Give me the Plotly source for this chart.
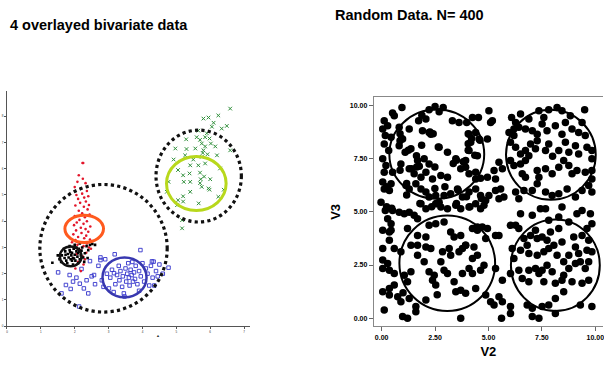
import plotly.graph_objects as go

# ---------------- Left panel: 4 overlayed bivariate data ----------------
red_x = [2.23,2.25,2.12,2.24,2.08,2.32,2.0,2.18,2.36,2.22,2.05,2.4,2.28,2.1,2.33,2.16,2.42,2.02,2.27,2.38,
         2.12,2.22,2.44,2.0,2.3,2.14,2.36,2.06,2.26,1.98,2.46,2.18,2.32,2.04,2.4,2.2,1.96,2.34,2.1,2.28,
         2.45,2.02,2.2,2.36,2.08,2.26,2.42,1.98,2.16,2.34,2.06,2.24,1.95,2.3,2.1,2.26,2.02,2.18,2.48,1.92]
red_y = [6.22,6.22,5.75,5.62,5.5,5.45,5.3,5.25,5.15,5.05,5.0,4.95,4.9,4.85,4.75,4.7,4.62,4.6,4.55,4.45,
         4.4,4.3,4.25,4.2,4.15,4.05,4.0,3.95,3.9,3.85,3.8,3.75,3.7,3.65,3.6,3.55,3.5,3.45,3.4,3.35,
         3.3,3.28,3.2,3.15,3.1,3.05,3.0,2.95,2.9,2.8,2.75,2.65,2.6,2.55,2.45,2.35,2.2,2.1,2.95,3.2]

black_x = [1.34,1.55,1.62,1.7,1.72,1.75,1.8,1.82,1.85,1.88,1.9,1.92,1.95,1.97,2.0,2.02,2.05,2.08,2.1,2.12,
           2.15,2.18,2.2,2.22,2.25,2.3,2.35,2.4,2.45,2.52,2.6,1.78,1.95,2.1,1.68,1.85,2.0,2.15,1.5,1.6,
           2.28,2.38,1.92,2.05,1.87,2.13,1.98,1.73]
black_y = [2.42,2.55,2.7,2.6,2.85,2.5,2.75,2.62,2.9,2.55,2.7,2.8,2.6,2.95,2.72,2.5,2.85,2.65,2.78,2.95,
           2.55,2.7,2.88,3.0,2.62,2.78,3.05,2.9,3.1,3.13,3.1,2.4,2.35,2.4,2.95,3.05,3.1,3.15,2.7,2.45,
           2.45,2.6,2.5,3.0,2.82,2.85,2.58,2.72]

blue_x = [1.51,1.74,1.88,2.13,1.61,1.95,2.05,2.15,2.27,2.35,2.45,2.5,2.57,2.6,2.7,2.76,2.76,2.8,2.85,2.95,
          3.01,3.05,3.1,3.16,3.18,3.2,3.25,3.3,3.32,3.35,3.4,3.42,3.45,3.47,3.5,3.52,3.55,3.58,3.6,3.62,
          3.65,3.68,3.7,3.72,3.75,3.78,3.8,3.85,3.9,3.94,3.95,4.0,4.05,4.1,4.15,4.2,4.25,4.28,4.33,4.3,
          4.4,4.45,4.5,4.6,4.77,2.2,2.9,3.15,4.35,1.85,2.4,3.9]
blue_y = [2.05,1.57,1.42,0.75,1.25,1.7,1.85,1.62,1.44,1.75,2.48,1.9,1.95,1.6,2.3,2.52,2.62,1.75,1.5,2.0,
          1.44,1.85,2.15,2.02,2.74,1.6,1.95,2.3,1.75,2.1,1.5,1.9,1.25,1.13,2.2,1.7,2.0,2.4,1.85,1.55,
          2.15,1.95,2.45,1.7,2.05,1.8,2.3,1.6,2.1,2.9,1.9,2.4,1.7,2.2,2.0,1.55,2.3,2.47,2.46,1.85,
          2.1,1.9,2.35,2.0,2.23,2.18,2.55,1.3,1.55,1.95,1.25,1.35]

green_x = [6.59,6.24,5.95,5.8,6.49,6.34,6.05,5.29,5.6,5.7,5.75,5.85,5.8,5.98,6.02,6.15,5.92,5.56,5.3,4.97,
           5.26,4.92,5.5,5.75,6.2,6.59,6.29,5.41,5.65,5.85,5.7,5.39,5.2,5.05,4.77,5.41,5.7,5.75,5.22,5.95,
           5.41,5.2,6.24,5.98,6.0,4.72,5.66,5.05,5.2,5.02,6.4,5.17,5.17,5.9,5.85,5.78,5.82,5.72,6.1,5.65]
green_y = [8.29,8.03,7.95,7.91,7.63,7.53,7.6,7.12,7.2,7.1,6.96,6.85,6.7,7.15,6.96,6.85,6.55,6.77,6.75,6.77,
           6.51,6.35,6.35,6.45,6.51,6.7,6.01,6.13,6.13,6.2,5.85,5.82,5.75,5.95,5.5,5.5,5.45,5.31,5.5,5.25,
           5.12,4.95,4.93,5.2,5.6,5.12,4.68,4.8,4.75,4.61,5.2,4.04,3.73,7.35,7.2,6.6,5.7,5.6,7.75,7.45]

# ellipses on the left panel: centre x, centre y, radius x, radius y
left_ell_cx = [2.85, 5.66, 5.59, 2.28, 1.88, 3.47]
left_ell_cy = [2.97, 5.72, 5.44, 3.71, 2.66, 1.86]
left_ell_rx = [1.88, 1.26, 0.88, 0.57, 0.32, 0.65]
left_ell_ry = [2.43, 1.75, 1.03, 0.52, 0.38, 0.76]
left_ell_col = ["#111111", "#111111", "#b8d81c", "#ff5a1e", "#111111", "#3838b0"]
left_ell_dash = ["dot", "dot", "solid", "solid", "solid", "solid"]
left_ell_w = [3.2, 3.2, 3, 3, 2.5, 2.5]

left_xticks = [0, 1, 2, 3, 4, 5, 6, 7]
left_yticks = [0, 1, 2, 3, 4, 5, 6, 7, 8]

# ---------------- Right panel: Random Data, N = 400 ----------------
v2 = [0.95,0.51,0.12,0.59,1.88,2.22,2.5,2.88,2.69,1.73,2.07,3.31,3.62,3.98,4.25,4.53,5.02,5.18,5.1,6.08,
      6.5,7.36,7.82,8.21,8.44,8.83,9.5,7.59,6.89,6.27,
      0.05,0.28,0.17,0.44,0.82,0.98,1.29,1.91,2.22,2.3,4.09,4.4,4.56,4.95,5.96,6.19,6.42,6.19,6.73,7.05,
      7.28,7.74,8.13,8.6,8.91,9.22,9.53,9.38,7.51,8.44,0.86,0.93,2.26,2.41,4.05,4.21,4.6,
      0.12,0.33,0.86,0.82,1.1,1.37,1.63,1.68,1.99,2.69,3.08,3.47,3.93,4.17,4.09,4.48,0.05,6.03,6.27,6.5,
      6.73,6.97,6.89,7.28,7.67,7.82,8.29,8.6,8.76,9.07,9.22,9.61,9.84,9.84,1.87,2.65,1.25,4.05,4.05,4.36,
      7.2,8.0,
      0.2,0.12,0.51,0.9,1.29,1.52,1.76,2.07,2.22,1.84,2.38,2.77,3.08,3.7,3.93,4.09,4.4,4.4,4.63,4.95,
      5.26,5.33,5.65,5.49,6.03,6.19,6.5,6.73,6.58,6.73,7.28,7.36,7.67,7.98,8.29,8.52,8.76,8.91,9.14,9.53,
      9.84,9.84,1.64,1.4,0.86,2.49,3.35,3.5,3.82,
      0.05,0.44,0.12,0.36,1.14,1.29,1.6,1.84,2.07,2.22,2.53,2.69,2.92,3.23,3.55,3.78,4.09,4.4,4.63,4.87,
      5.02,5.33,5.57,5.72,5.49,6.27,6.66,6.42,7.05,7.28,7.67,7.98,8.29,8.68,9.07,9.38,9.69,9.84,0.23,1.17,
      2.49,2.96,3.58,3.97,4.67,1.17,
      -0.03,0.17,0.51,0.82,1.06,1.29,1.52,1.68,1.84,2.07,2.53,2.77,3.08,3.47,3.7,4.09,4.4,4.63,4.79,0.28,
      0.44,4.48,4.71,4.95,6.03,6.27,6.5,7.05,7.43,7.67,7.82,8.29,8.44,9.14,9.38,9.77,9.84,8.76,0.23,0.47,
      1.79,2.34,2.57,3.5,4.13,
      0.05,0.36,0.36,0.44,1.21,1.68,2.07,2.22,2.53,2.92,3.23,3.39,3.7,3.93,4.25,4.48,5.33,5.49,4.87,6.42,
      6.66,6.97,7.2,7.28,7.51,7.74,7.9,8.29,8.44,8.99,9.38,9.61,9.69,
      0.05,0.59,0.9,1.37,1.68,2.07,2.3,2.85,3.16,3.62,3.78,3.93,4.32,4.48,4.25,2.77,3.23,1.99,1.68,0.28,
      0.05,6.11,6.19,6.5,6.81,6.89,7.28,7.59,7.82,8.06,8.21,8.52,8.76,9.07,9.22,9.61,9.69,9.84,
      0.05,0.36,0.59,1.06,1.37,2.22,2.46,2.38,2.53,2.92,3.08,3.39,3.78,4.09,4.25,4.63,4.79,5.33,5.65,6.03,
      6.42,6.89,7.2,7.36,7.51,7.74,7.98,8.52,8.76,9.07,9.3,9.53,9.69,8.44,8.13,7.59,6.89,6.58,1.21,0.59,
      0.05,0.36,0.36,0.75,0.9,1.29,1.6,2.07,3.47,3.7,3.93,4.4,4.87,5.1,5.26,5.49,5.65,6.03,6.81,7.05,
      7.51,7.82,8.13,8.52,8.91,9.38,9.84,9.3,0.12,1.0,2.6,
      0.98,1.21,3.7,5.61,6.03,7.05,7.36,8.13,1.6]
v3 = [9.89,9.63,9.27,9.5,9.53,9.78,9.94,9.89,9.69,9.27,9.35,9.27,9.19,9.19,9.42,9.42,9.74,9.27,9.19,9.42,
      9.58,9.74,9.78,9.89,9.74,9.5,9.78,9.42,9.35,9.19,
      8.88,9.03,8.57,8.49,8.96,8.41,8.88,8.8,8.72,8.64,8.64,8.72,8.41,8.41,8.72,8.88,8.96,8.57,8.88,8.8,
      8.64,8.8,9.03,9.19,8.88,8.72,8.57,9.19,9.11,8.64,8.66,8.43,8.74,8.66,8.66,8.43,8.35,
      8.18,7.87,8.33,8.1,7.79,7.95,7.63,7.4,7.48,8.02,7.79,7.48,7.4,8.26,7.87,7.63,7.48,8.26,8.02,7.71,
      7.87,8.18,7.63,8.33,7.87,8.18,7.87,8.26,7.79,8.1,7.71,8.02,7.87,7.48,8.12,8.04,7.88,8.19,7.88,7.65,
      7.95,7.6,
      7.17,6.85,6.85,7.24,7.01,6.78,7.13,6.85,7.24,6.62,6.54,6.7,6.62,7.01,7.09,6.78,6.85,6.54,6.57,6.62,
      6.93,6.54,7.01,7.32,7.4,7.17,7.24,7.4,6.78,6.62,6.93,6.62,7.01,6.78,7.09,7.4,7.17,6.78,6.93,6.85,
      6.93,6.54,7.1,7.02,6.95,7.1,7.26,7.41,7.34,
      6.39,6.31,6.07,6.0,6.23,6.07,6.31,6.07,5.92,5.69,5.76,5.45,5.76,5.84,6.07,5.69,5.92,6.07,5.76,5.53,
      5.76,6.0,6.07,5.69,5.61,5.92,6.0,5.61,6.0,6.31,5.92,5.76,5.84,6.07,5.69,6.0,6.23,5.92,6.17,6.32,
      6.09,6.17,6.01,5.7,5.62,5.78,
      5.45,5.06,5.06,4.98,4.91,4.98,4.83,4.67,5.37,5.14,5.37,5.22,5.14,5.3,5.14,5.22,5.37,5.14,5.3,4.67,
      4.44,4.28,4.28,4.21,4.36,4.36,4.91,4.83,5.14,5.14,4.6,4.75,5.22,4.91,5.06,4.91,4.44,4.52,5.23,5.16,
      5.39,5.23,5.39,5.39,5.23,
      4.13,4.05,3.66,4.13,4.21,3.89,3.82,4.36,4.44,4.52,4.05,3.82,3.89,3.43,4.21,4.13,3.89,3.89,3.74,4.21,
      3.74,3.89,4.13,3.74,3.82,3.66,4.05,4.21,3.58,3.82,3.89,4.21,3.66,
      3.27,3.27,3.12,3.43,3.43,3.35,3.27,3.12,3.27,3.12,3.27,3.43,3.35,2.96,2.8,2.65,2.96,2.65,2.96,2.57,
      2.73,3.27,2.8,3.19,3.43,3.04,2.96,3.12,3.27,3.43,2.96,2.65,2.96,3.35,3.04,3.19,2.65,3.12,
      2.34,2.26,2.1,2.02,2.18,2.18,2.02,1.79,1.56,2.26,2.1,1.71,2.1,2.34,2.1,2.26,2.49,2.34,1.79,2.1,
      2.26,2.26,2.34,2.1,2.26,2.49,2.18,2.02,2.34,2.57,2.65,2.34,1.79,1.79,1.64,1.71,1.71,1.87,1.71,1.56,
      1.25,1.4,1.09,1.01,0.78,0.93,0.55,0.86,1.25,1.32,1.17,1.4,1.09,0.78,0.62,1.01,0.78,0.55,0.62,0.47,
      0.55,0.62,0.93,1.25,1.71,1.64,0.55,0.62,0.39,1.2,1.1,
      0.08,0.0,0.0,0.0,0.23,0.08,0.0,0.23,0.31]

# circles on the right panel: centre x, centre y, radius x, radius y
right_ell_cx = [2.58, 7.92, 3.07, 8.13]
right_ell_cy = [7.70, 7.67, 2.58, 2.49]
right_ell_rx = [2.22, 2.10, 2.24, 2.08]
right_ell_ry = [2.09, 2.11, 2.24, 2.15]

right_ticks = [0, 2.5, 5, 7.5, 10]
right_ticklabels = ["0.00", "2.50", "5.00", "7.50", "10.00"]

fig = go.Figure()

fig.add_trace(go.Scatter(x=blue_x, y=blue_y, mode="markers", xaxis="x", yaxis="y",
                         marker=dict(symbol="square-open", size=3.5, color="#3333cc",
                                     line=dict(width=0.9, color="#3333cc"))))
fig.add_trace(go.Scatter(x=green_x, y=green_y, mode="markers", xaxis="x", yaxis="y",
                         marker=dict(symbol="x-thin-open", size=3.6, color="#2f8f3a",
                                     line=dict(width=1, color="#2f8f3a"))))
fig.add_trace(go.Scatter(x=red_x, y=red_y, mode="markers", xaxis="x", yaxis="y",
                         marker=dict(symbol="circle", size=2.6, color="#e3162b")))
fig.add_trace(go.Scatter(x=black_x, y=black_y, mode="markers", xaxis="x", yaxis="y",
                         marker=dict(symbol="square", size=2.6, color="#000000")))

fig.add_trace(go.Scatter(x=v2, y=v3, mode="markers", xaxis="x2", yaxis="y2",
                         marker=dict(symbol="circle", size=7.5, color="#000000")))

shapes = []
for cx, cy, rx, ry, col, dash, w in zip(left_ell_cx, left_ell_cy, left_ell_rx, left_ell_ry,
                                        left_ell_col, left_ell_dash, left_ell_w):
    shapes.append(dict(type="circle", xref="x", yref="y", x0=cx - rx, x1=cx + rx,
                       y0=cy - ry, y1=cy + ry, line=dict(color=col, width=w, dash=dash)))
for cx, cy, rx, ry in zip(right_ell_cx, right_ell_cy, right_ell_rx, right_ell_ry):
    shapes.append(dict(type="circle", xref="x2", yref="y2", x0=cx - rx, x1=cx + rx,
                       y0=cy - ry, y1=cy + ry, line=dict(color="#000000", width=2)))

W, H = 604, 365
fig.update_layout(
    width=W, height=H, margin=dict(l=0, r=0, t=0, b=0),
    paper_bgcolor="white", plot_bgcolor="white", showlegend=False,
    font=dict(family="Liberation Sans, Arial, sans-serif", color="#000000"),
    shapes=shapes,
    xaxis=dict(domain=[6 / W, 250 / W], range=[0, 7.18], showgrid=False, zeroline=False,
               showline=True, linecolor="#555555", linewidth=1, ticks="outside", ticklen=2,
               tickcolor="#555555", tickvals=left_xticks, tickfont=dict(size=3, color="#333333")),
    yaxis=dict(domain=[1 - 328 / H, 1 - 91 / H], range=[0, 8.98], showgrid=False, zeroline=False,
               showline=True, linecolor="#555555", linewidth=1, ticks="outside", ticklen=2,
               tickcolor="#555555", tickvals=left_yticks, tickfont=dict(size=3, color="#333333")),
    xaxis2=dict(domain=[374 / W, 1.0], range=[-0.37, 10.36], anchor="y2", showgrid=False,
                zeroline=False, showline=True, mirror=True, linecolor="#888888", linewidth=1,
                ticks="outside", ticklen=4, tickcolor="#666666", tickvals=right_ticks,
                ticktext=right_ticklabels, ticklabeloverflow="allow",
                tickfont=dict(size=7, family="Liberation Sans, Arial", color="#000000", weight="bold"),
                title=dict(text="<b>V2</b>", font=dict(size=13), standoff=7)),
    yaxis2=dict(domain=[1 - 328 / H, 1 - 98 / H], range=[-0.37, 10.36], anchor="x2", showgrid=False,
                zeroline=False, showline=True, linecolor="#888888", linewidth=1,
                ticks="outside", ticklen=4, tickcolor="#666666", tickvals=right_ticks,
                ticktext=right_ticklabels,
                tickfont=dict(size=7, family="Liberation Sans, Arial", color="#000000", weight="bold"),
                title=dict(text="<b>V3</b>", font=dict(size=13), standoff=6)),
    annotations=[
        dict(text="<b>4 overlayed bivariate data</b>", x=7 / W, y=1 - 25 / H, xref="paper", yref="paper",
             xanchor="left", yanchor="middle", showarrow=False, font=dict(size=14.5)),
        dict(text="<b>Random Data. N= 400</b>", x=333 / W, y=1 - 15 / H, xref="paper", yref="paper",
             xanchor="left", yanchor="middle", showarrow=False, font=dict(size=14.5)),
        dict(text="▲", x=158 / W, y=1 - 337 / H, xref="paper", yref="paper",
             xanchor="center", yanchor="middle", showarrow=False, font=dict(size=4, color="#333333")),
    ],
)

fig.write_html("out.html", config={"displayModeBar": False},
               post_script="document.body.style.margin='0';document.body.style.overflow='hidden';")
